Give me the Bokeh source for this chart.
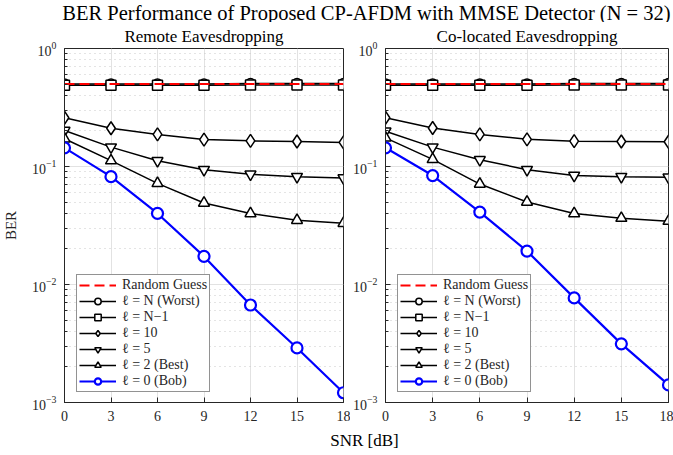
from bokeh.plotting import figure
from bokeh.models import Range1d, FixedTicker, Legend, LegendItem, Label
from bokeh.layouts import column, row
from bokeh.embed import file_html
from bokeh.resources import INLINE

# ---------------- data ----------------
snr = [0, 3, 6, 9, 12, 15, 18]
x_ticks = [0, 3, 6, 9, 12, 15, 18]
y_major = [1e-3, 1e-2, 1e-1, 1.0]

random_guess = [0.5, 0.5, 0.5, 0.5, 0.5, 0.5, 0.5]

remote_N = [0.50, 0.50, 0.50, 0.50, 0.505, 0.505, 0.505]
remote_N1 = [0.488, 0.488, 0.488, 0.488, 0.49, 0.49, 0.49]
remote_l10 = [0.259, 0.211, 0.187, 0.169, 0.165, 0.163, 0.160]
remote_l5 = [0.202, 0.146, 0.112, 0.094, 0.086, 0.082, 0.080]
remote_l2 = [0.172, 0.112, 0.072, 0.049, 0.040, 0.035, 0.033]
remote_bob = [0.144, 0.082, 0.040, 0.0173, 0.0067, 0.0029, 0.00121]

colo_N = [0.50, 0.50, 0.50, 0.50, 0.505, 0.505, 0.505]
colo_N1 = [0.488, 0.488, 0.488, 0.488, 0.49, 0.49, 0.49]
colo_l10 = [0.259, 0.212, 0.187, 0.170, 0.164, 0.163, 0.162]
colo_l5 = [0.199, 0.146, 0.114, 0.094, 0.084, 0.082, 0.081]
colo_l2 = [0.175, 0.115, 0.071, 0.050, 0.040, 0.0365, 0.0344]
colo_bob = [0.144, 0.0838, 0.0411, 0.0192, 0.0077, 0.00314, 0.00141]

labels = ["Random Guess", "ℓ = N (Worst)", "ℓ = N−1", "ℓ = 10",
          "ℓ = 5", "ℓ = 2 (Best)", "ℓ = 0 (Bob)"]

FONT = "Liberation Serif"
AX = "#262626"

minor = [m * 10.0 ** k for k in (-3, -2, -1) for m in range(2, 10)]


def style_axis(ax, size):
    ax.axis_line_color = AX
    ax.major_tick_line_color = AX
    ax.minor_tick_line_color = AX
    ax.major_tick_in = 5
    ax.major_tick_out = 0
    ax.minor_tick_in = 3
    ax.minor_tick_out = 0
    ax.major_label_text_font = FONT
    ax.major_label_text_color = AX
    ax.major_label_text_font_size = size
    ax.major_label_standoff = 8


def panel(width, height, mb_left, mb_right, series, subtitle, ylabel=None):
    p = figure(width=width, height=height, y_axis_type="log",
               x_range=Range1d(0, 18), y_range=Range1d(1e-3, 1.0),
               output_backend="svg", toolbar_location=None,
               min_border_left=mb_left, min_border_right=mb_right,
               min_border_top=26, min_border_bottom=22)
    p.title.text = subtitle
    p.title.align = "center"
    p.title.text_font = FONT
    p.title.text_font_size = "17px"
    p.title.text_font_style = "normal"
    p.title.text_color = "black"
    p.title.standoff = 5

    p.outline_line_color = AX
    p.outline_line_width = 1
    p.background_fill_color = "white"
    p.border_fill_color = "white"

    p.xaxis.ticker = FixedTicker(ticks=x_ticks)
    p.yaxis.ticker = FixedTicker(ticks=y_major, minor_ticks=minor)
    style_axis(p.xaxis[0], "14px")
    style_axis(p.yaxis[0], "14px")
    p.xaxis.minor_tick_line_color = None

    if ylabel:
        p.yaxis[0].axis_label = ylabel
        p.yaxis[0].axis_label_text_font = FONT
        p.yaxis[0].axis_label_text_font_size = "15px"
        p.yaxis[0].axis_label_text_font_style = "normal"
        p.yaxis[0].axis_label_text_color = AX
        p.yaxis[0].axis_label_standoff = 10

    p.xgrid.grid_line_color = "#e2e2e2"
    p.ygrid.grid_line_color = "#e2e2e2"
    p.ygrid.minor_grid_line_color = "#c8c8c8"
    p.ygrid.minor_grid_line_dash = "1 4"

    vals_N, vals_N1, vals_10, vals_5, vals_2, vals_bob = series
    items = []
    specs = [
        (vals_N, "circle", 10),
        (vals_N1, "square", 10),
        (vals_10, "diamond", 13),
        (vals_5, "inverted_triangle", 11),
        (vals_2, "triangle", 11),
    ]
    rend = []
    for vals, mk, sz in specs:
        rl = p.line(snr, vals, line_color="black", line_width=1.5)
        rs = p.scatter(snr, vals, marker=mk, size=sz, line_color="black",
                       fill_color="white", line_width=1.5)
        rend.append((rl, rs))
    rbl = p.line(snr, vals_bob, line_color="#0000ff", line_width=2.2)
    rbs = p.scatter(snr, vals_bob, marker="circle", size=11, line_color="#0000ff",
                    fill_color="white", line_width=2.2)
    rr = p.line(snr, random_guess, line_color="#ff0000", line_width=2,
                line_dash="10 5")

    items.append(LegendItem(label=labels[0], renderers=[rr]))
    for lab, (rl, rs) in zip(labels[1:6], rend):
        items.append(LegendItem(label=lab, renderers=[rl, rs]))
    items.append(LegendItem(label=labels[6], renderers=[rbl, rbs]))

    leg = Legend(items=items, location=(12, 10))
    leg.label_text_font = FONT
    leg.label_text_font_size = "14px"
    leg.label_text_color = AX
    leg.glyph_width = 37
    leg.glyph_height = 16
    leg.label_height = 16
    leg.label_standoff = 6
    leg.spacing = 0
    leg.padding = 2
    leg.margin = 0
    leg.border_line_color = AX
    leg.border_line_width = 1
    leg.background_fill_color = "white"
    leg.background_fill_alpha = 1
    p.add_layout(leg)
    return p


def strip(width, height):
    s = figure(width=width, height=height, x_range=Range1d(0, width),
               y_range=Range1d(0, height), output_backend="svg",
               toolbar_location=None, min_border=0)
    s.axis.visible = False
    s.grid.visible = False
    s.outline_line_color = None
    return s


TOTAL_W = 673
TOP_H = 22
top = strip(TOTAL_W, TOP_H)
top.add_layout(Label(x=366, y=TOP_H - 12, text="BER Performance of Proposed CP-AFDM with MMSE Detector (N = 32)",
                     text_font=FONT, text_font_size="20.5px", text_color="black",
                     text_align="center", text_baseline="middle"))

p1 = panel(350, 402, 61, 7,
           (remote_N, remote_N1, remote_l10, remote_l5, remote_l2, remote_bob),
           "Remote Eavesdropping", ylabel="BER")
p2 = panel(323, 402, 33, 5,
           (colo_N, colo_N1, colo_l10, colo_l5, colo_l2, colo_bob),
           "Co-located Eavesdropping")

BOT_H = 30
bottom = strip(TOTAL_W, BOT_H)
bottom.add_layout(Label(x=364, y=BOT_H - 16, text="SNR [dB]",
                        text_font=FONT, text_font_size="17px", text_color="black",
                        text_align="center", text_baseline="middle"))

layout = column(top, row(p1, p2), bottom)

with open("out.html", "w") as f:
    f.write(file_html(layout, INLINE))
